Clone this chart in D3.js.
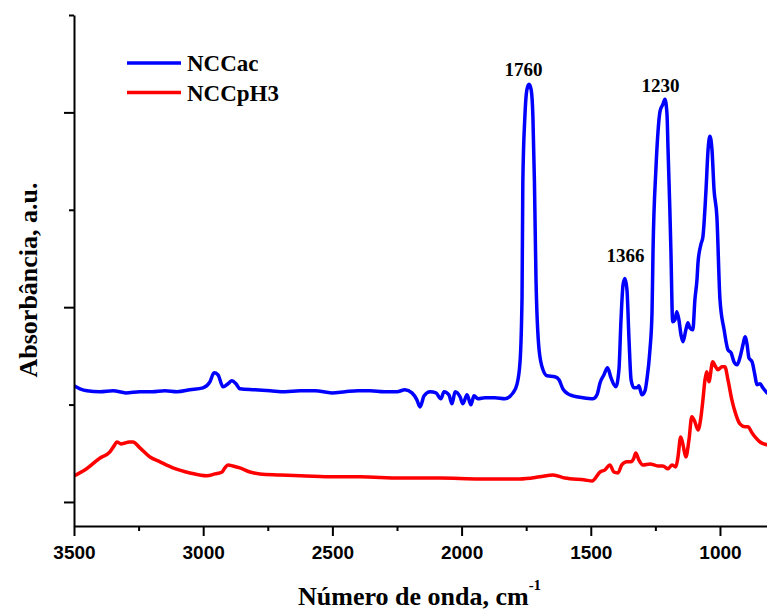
<!DOCTYPE html>
<html>
<head>
<meta charset="utf-8">
<script src="https://cdn.jsdelivr.net/npm/d3@7"></script>
<style>
  html, body { margin: 0; padding: 0; background: #fff; }
  svg { display: block; }
</style>
</head>
<body>
<svg id="chart" width="767" height="610"></svg>
<script>
// ---- Data (wavenumber in cm^-1, absorbance in a.u., arbitrary offsets) ----
const seriesNames = ["NCCac", "NCCpH3"];
const seriesColors = ["#0000ff", "#ff0000"];

const nccacWave = [3500,3477,3450,3399,3349,3299,3245,3198,3148,3101,3051,3001,2974,2958,2943,2923,2904,2889,2873,2858,2800,2741,2683,2625,2567,2502,2451,2401,2354,2300,2250,2219,2192,2173,2161,2145,2122,2099,2080,2068,2049,2037,2025,2006,1995,1979,1964,1952,1937,1910,1871,1832,1801,1786,1774,1766,1763,1755,1747,1739,1731,1724,1718,1712,1700,1685,1669,1639,1623,1608,1588,1569,1530,1491,1476,1464,1449,1435,1422,1403,1391,1383,1375,1368,1360,1352,1344,1333,1321,1314,1302,1290,1283,1271,1263,1259,1248,1240,1232,1221,1213,1205,1201,1194,1190,1183,1174,1167,1159,1151,1143,1132,1124,1117,1105,1097,1089,1085,1074,1066,1054,1046,1039,1031,1023,1012,1000,984,969,957,946,934,923,911,903,895,888,876,865,857,845,834,818];
const nccacAbs = [0.596,0.581,0.571,0.566,0.571,0.560,0.566,0.566,0.571,0.566,0.576,0.586,0.617,0.663,0.653,0.591,0.607,0.622,0.607,0.581,0.576,0.571,0.566,0.571,0.571,0.560,0.566,0.571,0.571,0.566,0.566,0.576,0.560,0.524,0.488,0.545,0.566,0.560,0.530,0.566,0.550,0.504,0.566,0.540,0.504,0.550,0.499,0.545,0.530,0.535,0.535,0.530,0.560,0.602,0.715,1.054,1.640,1.979,2.118,2.144,2.118,1.979,1.640,1.141,0.781,0.679,0.648,0.643,0.627,0.581,0.555,0.545,0.535,0.530,0.550,0.612,0.653,0.689,0.638,0.591,0.679,0.936,1.116,1.147,1.090,0.833,0.627,0.586,0.586,0.596,0.550,0.571,0.627,0.781,0.972,1.296,1.707,1.897,2.005,2.041,2.067,1.990,1.810,1.501,1.296,0.925,0.936,0.977,0.936,0.859,0.823,0.884,0.920,0.895,0.884,1.039,1.141,1.229,1.321,1.362,1.604,1.810,1.877,1.810,1.604,1.465,1.039,0.884,0.781,0.766,0.720,0.704,0.740,0.807,0.848,0.807,0.740,0.720,0.653,0.602,0.607,0.586,0.560];

const nccph3Wave = [3500,3457,3399,3361,3345,3334,3318,3303,3287,3272,3245,3206,3167,3117,3051,2986,2954,2927,2916,2904,2885,2858,2819,2780,2703,2625,2509,2393,2238,2084,1929,1774,1697,1646,1600,1522,1495,1464,1445,1426,1411,1395,1380,1360,1345,1333,1326,1314,1298,1271,1240,1221,1201,1186,1171,1163,1152,1143,1132,1120,1109,1097,1085,1074,1066,1058,1051,1043,1028,1019,1008,992,981,969,954,938,923,903,892,876,861,845,830,818];
const nccph3Abs = [0.134,0.165,0.226,0.257,0.288,0.308,0.298,0.303,0.308,0.308,0.278,0.231,0.206,0.175,0.149,0.134,0.144,0.154,0.175,0.190,0.185,0.175,0.154,0.144,0.139,0.134,0.129,0.129,0.123,0.123,0.118,0.118,0.129,0.139,0.123,0.113,0.108,0.154,0.165,0.190,0.154,0.149,0.190,0.206,0.206,0.226,0.252,0.216,0.190,0.195,0.185,0.185,0.170,0.190,0.180,0.226,0.334,0.293,0.231,0.319,0.437,0.411,0.370,0.432,0.524,0.627,0.668,0.617,0.720,0.699,0.679,0.694,0.694,0.627,0.524,0.447,0.401,0.386,0.386,0.355,0.329,0.308,0.298,0.293];

const xTickValues = [3500, 3000, 2500, 2000, 1500, 1000];
const xMinorTickValues = [3250, 2750, 2250, 1750, 1250];
const yTickValues = [0, 1, 2];
const yMinorTickValues = [0.5, 1.5, 2.5];

const peakLabels = ["1760", "1366", "1230"];
const peakLabelWave = [1760, 1366, 1230];
const peakLabelAbs = [2.185, 1.232, 2.105];

// ---- Layout ----
const svg = d3.select("#chart");
const plotLeft = 74, plotRight = 767, plotTop = 15, plotBottom = 526;

const x = d3.scaleLinear().domain([3500, 818]).range([plotLeft, plotRight]);
const y = d3.scaleLinear().domain([-0.1234, 2.5]).range([plotBottom, plotTop]);

const series = [
  { name: seriesNames[0], color: seriesColors[0], data: nccacWave.map((w, i) => [w, nccacAbs[i]]) },
  { name: seriesNames[1], color: seriesColors[1], data: nccph3Wave.map((w, i) => [w, nccph3Abs[i]]) }
];

const line = d3.line().x(d => x(d[0])).y(d => y(d[1])).curve(d3.curveMonotoneX);

svg.append("defs").append("clipPath").attr("id", "clip")
  .append("rect").attr("x", plotLeft).attr("y", plotTop - 5).attr("width", plotRight - plotLeft).attr("height", plotBottom - plotTop + 5);

const plot = svg.append("g").attr("clip-path", "url(#clip)");
series.forEach(s => {
  plot.append("path")
    .datum(s.data)
    .attr("fill", "none")
    .attr("stroke", s.color)
    .attr("stroke-width", 3.5)
    .attr("stroke-linejoin", "round")
    .attr("stroke-linecap", "round")
    .attr("d", line);
});

// ---- Axes ----
const axisStyle = g => {
  g.selectAll(".domain").attr("stroke", "#000").attr("stroke-width", 2);
  g.selectAll(".tick line").attr("stroke", "#000").attr("stroke-width", 2);
};

const xAxis = svg.append("g").attr("transform", `translate(0,${plotBottom})`)
  .call(d3.axisBottom(x).tickValues(xTickValues).tickSize(10).tickSizeOuter(0).tickPadding(10).tickFormat(d3.format("d")));
xAxis.selectAll("text")
  .attr("font-family", "'Liberation Sans', Arial, sans-serif")
  .attr("font-weight", "bold").attr("font-size", 19).attr("fill", "#000");
axisStyle(xAxis);
svg.append("g").attr("transform", `translate(0,${plotBottom})`)
  .call(d3.axisBottom(x).tickValues(xMinorTickValues).tickSize(5).tickFormat(""))
  .call(g => g.select(".domain").remove())
  .call(axisStyle);

const yAxis = svg.append("g").attr("transform", `translate(${plotLeft},0)`)
  .call(d3.axisLeft(y).tickValues(yTickValues).tickSize(10).tickSizeOuter(0).tickFormat(""));
axisStyle(yAxis);
svg.append("g").attr("transform", `translate(${plotLeft},0)`)
  .call(d3.axisLeft(y).tickValues(yMinorTickValues).tickSize(5).tickFormat(""))
  .call(g => g.select(".domain").remove())
  .call(axisStyle);

// ---- Axis titles ----
const serif = "'Liberation Serif', 'Times New Roman', serif";
const xt = svg.append("text")
  .attr("x", 298).attr("y", 605)
  .attr("font-family", serif).attr("font-weight", "bold").attr("font-size", 26).attr("fill", "#000");
xt.append("tspan").text("Número de onda, cm");
xt.append("tspan").attr("dy", -15).attr("font-size", 15).text("-1");

svg.append("text")
  .attr("transform", `translate(37,280) rotate(-90)`)
  .attr("text-anchor", "middle")
  .attr("font-family", serif).attr("font-weight", "bold").attr("font-size", 26).attr("fill", "#000")
  .text("Absorbância, a.u.");

// ---- Legend ----
series.forEach((s, i) => {
  const ly = 63 + i * 29.5;
  svg.append("line")
    .attr("x1", 127).attr("x2", 181).attr("y1", ly).attr("y2", ly)
    .attr("stroke", s.color).attr("stroke-width", 3.5);
  svg.append("text")
    .attr("x", 187).attr("y", ly + 8)
    .attr("font-family", serif).attr("font-weight", "bold").attr("font-size", 23).attr("fill", "#000")
    .text(s.name);
});

// ---- Peak annotations ----
peakLabels.forEach((t, i) => {
  svg.append("text")
    .attr("x", x(peakLabelWave[i])).attr("y", y(peakLabelAbs[i]))
    .attr("text-anchor", "middle")
    .attr("font-family", serif).attr("font-weight", "bold").attr("font-size", 19).attr("fill", "#000")
    .text(t);
});
</script>
</body>
</html>
